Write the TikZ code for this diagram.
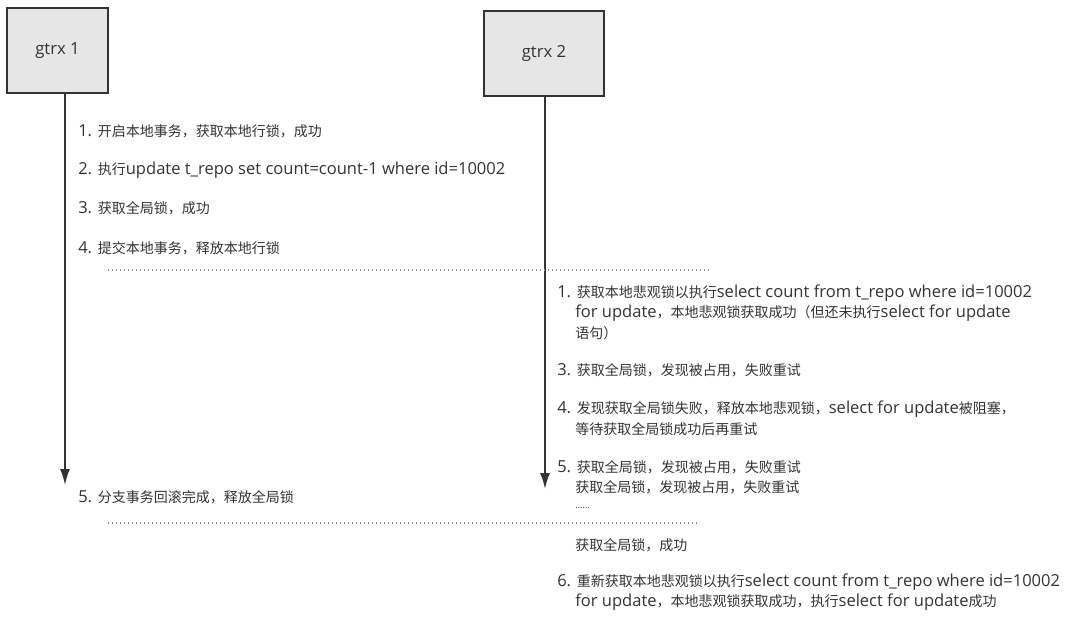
\documentclass[tikz,border=0pt]{standalone}
\usepackage{fontspec}
\setmainfont{Noto Sans CJK SC}
\newfontfamily\latfont{Open Sans}
\newcommand{\la}[1]{{\latfont\fontsize{12.4}{14}\selectfont #1}}
\usetikzlibrary{arrows.meta}
\definecolor{txt}{HTML}{333333}
\definecolor{boxfill}{HTML}{E6E6E6}
\definecolor{boxline}{HTML}{333333}
\definecolor{dotc}{HTML}{8C8C8C}
\begin{document}
\begin{tikzpicture}[x=0.75pt,y=-0.75pt,
  actor/.style={draw=boxline,line width=1.5pt,fill=boxfill,minimum width=75.75pt,minimum height=63.75pt,inner sep=0pt,font=\latfont\fontsize{12.5}{14}\selectfont,text=txt},
  life/.style={draw=boxline,line width=1.3pt,-{Latex[length=12pt,width=7.5pt]}},
  lbl/.style={anchor=west,inner sep=0pt,font=\fontsize{10.5}{13}\selectfont,text=txt},
  sep/.style={draw=dotc,line width=0.9pt,dash pattern=on 0.9pt off 2.1pt}]
\useasboundingbox (0,0) rectangle (1080,618);
\node[actor] (g1) at (57.5,50.5) {gtrx 1};
\node[actor,minimum width=90pt] (g2) at (544,53.5) {gtrx 2};
\coordinate (e1) at (65,485);
\coordinate (e2) at (545,489);
\draw[life] (g1.south -| e1) -- (e1);
\draw[life] (g2.south -| e2) -- (e2);
% left texts
\node[lbl] (a1) at (78,131) {\la{1. }开启本地事务，获取本地行锁，成功};
\node[lbl] (a2) at (78,170) {\la{2. }执行\la{update t\_repo set count=count-1 where id=10002}};
\node[lbl] (a3) at (78,208) {\la{3. }获取全局锁，成功};
\node[lbl] (a4) at (78,248) {\la{4. }提交本地事务，释放本地行锁};
\node[lbl] (a5) at (78,497) {\la{5. }分支事务回滚完成，释放全局锁};
% separators
\coordinate (s1a) at (108,270); \coordinate (s1b) at (710,270);
\coordinate (s2a) at (108,523); \coordinate (s2b) at (697,523);
\draw[sep] (s1a) -- (s1b);
\draw[sep] (s2a) -- (s2b);
% right texts
\node[lbl] (b1) at (557,293) {\la{1. }获取本地悲观锁以执行\la{select count from t\_repo where id=10002}};
\node[lbl] (b1b) at (575,313) {\la{for update}，本地悲观锁获取成功（但还未执行\la{select for update}};
\node[lbl] (b1c) at (575,333) {语句）};
\node[lbl] (b3) at (557,370) {\la{3. }获取全局锁，发现被占用，失败重试};
\node[lbl] (b4) at (557,409) {\la{4. }发现获取全局锁失败，释放本地悲观锁，\la{select for update}被阻塞，};
\node[lbl] (b4b) at (575,429) {等待获取全局锁成功后再重试};
\node[lbl] (b5) at (557,467) {\la{5. }获取全局锁，发现被占用，失败重试};
\node[lbl] (b5b) at (575,487) {获取全局锁，发现被占用，失败重试};
\node[lbl,font=\latfont\fontsize{7}{8}\selectfont] (b5c) at (575,508) {......};
\node[lbl] (b7) at (575,545) {获取全局锁，成功};
\node[lbl] (b6) at (557,582) {\la{6. }重新获取本地悲观锁以执行\la{select count from t\_repo where id=10002}};
\node[lbl] (b6b) at (575,602) {\la{for update}，本地悲观锁获取成功，执行\la{select for update}成功};
\end{tikzpicture}
\end{document}
